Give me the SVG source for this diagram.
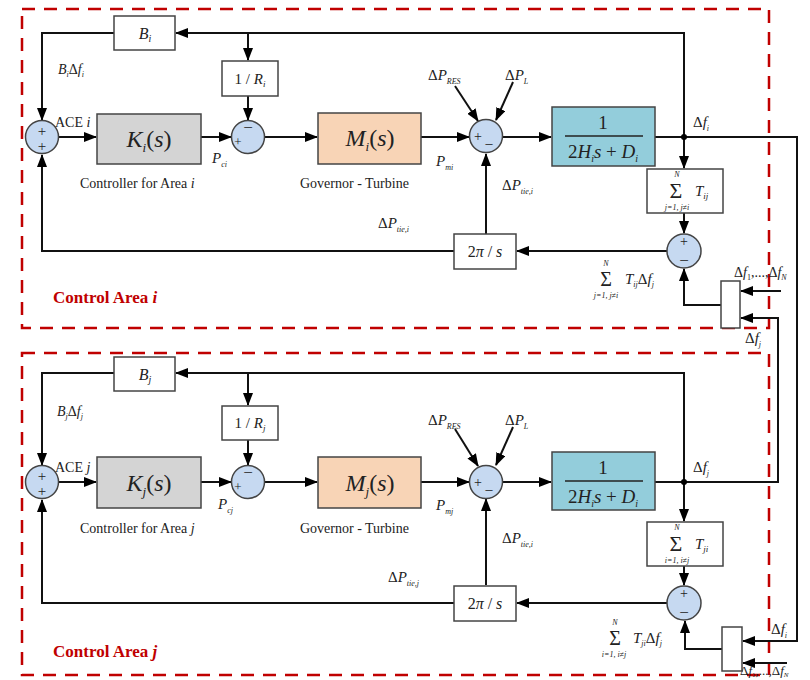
<svg xmlns="http://www.w3.org/2000/svg" width="810" height="680" viewBox="0 0 810 680" font-family="'Liberation Serif','Times New Roman',serif">
<defs>
<marker id="a" markerWidth="13" markerHeight="10" refX="12" refY="5" orient="auto" markerUnits="userSpaceOnUse">
<path d="M0,0 L13,5 L0,10 z" fill="#000"/>
</marker>
<style>
.t{font-family:"Liberation Serif","Times New Roman",serif;fill:#222}
.i{font-style:italic}
.ln{fill:none;stroke:#111;stroke-width:2}
.bx{fill:#fff;stroke:#444;stroke-width:1.5}
.sm{fill:#c6d9f1;stroke:#444;stroke-width:1.5}
.dash{fill:none;stroke:#c00000;stroke-width:2.5;stroke-dasharray:13 9}
.red{font-family:"Liberation Serif","Times New Roman",serif;font-weight:bold;fill:#c00000;font-size:17px}
</style>
</defs>
<rect width="810" height="680" fill="#fff"/>

<!-- area frames -->
<g id="areaI">
<rect class="dash" x="22" y="9" width="747" height="319"/>
<text class="red" x="53" y="303">Control Area <tspan class="i">i</tspan></text>
</g>
<g id="areaJ">
<rect class="dash" x="22" y="353" width="747" height="322"/>
<text class="red" x="53" y="657">Control Area <tspan class="i">j</tspan></text>
</g>

<!-- connectors -->
<g id="connectors" class="ln" marker-end="url(#a)">
<!-- area i -->
<path d="M684,137 L684,33 L176,33"/>
<path d="M248,33 L248,60"/>
<path d="M114,33 L42,33 L42,120"/>
<path d="M59,137 L96,137"/>
<path d="M201,137 L231,137"/>
<path d="M248,96 L248,120"/>
<path d="M265,137 L317,137"/>
<path d="M421,137 L469,137"/>
<path d="M455,86 L478,121"/>
<path d="M513,82 L496,120"/>
<path d="M503,137 L551,137"/>
<path d="M655,137 L797,137 L797,641 L743,641"/>
<path d="M684,137 L684,168"/>
<path d="M684,213 L684,233"/>
<path d="M667,251 L517,251"/>
<path d="M486,234 L486,154"/>
<path d="M454,251 L42,251 L42,155"/>
<path d="M781,291 L741,291"/>
<path d="M655,482 L778,482 L778,318 L741,318"/>
<path d="M721,305 L684,305 L684,269"/>
<!-- area j -->
<path d="M684,482 L684,373 L176,373"/>
<path d="M248,373 L248,405"/>
<path d="M114,373 L42,373 L42,465"/>
<path d="M59,482 L96,482"/>
<path d="M201,482 L231,482"/>
<path d="M248,440 L248,465"/>
<path d="M265,482 L317,482"/>
<path d="M421,482 L469,482"/>
<path d="M455,429 L478,466"/>
<path d="M513,427 L496,465"/>
<path d="M503,482 L551,482"/>
<path d="M684,482 L684,521"/>
<path d="M684,566 L684,585"/>
<path d="M667,603 L517,603"/>
<path d="M486,585 L486,499"/>
<path d="M454,603 L42,603 L42,500"/>
<path d="M787,663 L743,663"/>
<path d="M722,649 L685,649 L685,621"/>
</g>
<g id="junctions" fill="#000">
<circle cx="684" cy="137" r="3"/>
<circle cx="684" cy="482" r="3"/>
</g>

<!-- ===== Area i nodes ===== -->
<g id="Bi">
<rect class="bx" x="114" y="16" width="61" height="34"/>
<text class="t i" x="145" y="39" font-size="16" text-anchor="middle">B<tspan font-size="10" dy="3">i</tspan></text>
</g>
<g id="Ri">
<rect class="bx" x="222" y="61" width="56" height="35"/>
<text class="t" x="250" y="84" font-size="15" text-anchor="middle">1 / <tspan class="i">R</tspan><tspan class="i" font-size="9" dy="3">i</tspan></text>
</g>
<g id="S1i">
<circle class="sm" cx="42" cy="137" r="16.5"/>
<text class="t" x="42" y="136" font-size="15" text-anchor="middle">+</text>
<text class="t" x="42" y="151" font-size="15" text-anchor="middle">+</text>
</g>
<g id="Ki">
<rect x="97" y="114" width="104" height="50" fill="#d4d4d4" stroke="#444" stroke-width="1.5"/>
<text class="t" x="149" y="147" font-size="24" text-anchor="middle"><tspan class="i">K</tspan><tspan class="i" font-size="13" dy="5">i</tspan><tspan dy="-5">(</tspan><tspan class="i">s</tspan>)</text>
</g>
<g id="S2i">
<circle class="sm" cx="248" cy="137" r="16.5"/>
<text class="t" x="248" y="133" font-size="17" text-anchor="middle">−</text>
<text class="t" x="238" y="146" font-size="13" text-anchor="middle">+</text>
</g>
<g id="Mi">
<rect x="318" y="113" width="103" height="51" fill="#f8d4b6" stroke="#444" stroke-width="1.5"/>
<text class="t" x="370" y="146" font-size="24" text-anchor="middle"><tspan class="i">M</tspan><tspan class="i" font-size="13" dy="5">i</tspan><tspan dy="-5">(</tspan><tspan class="i">s</tspan>)</text>
</g>
<g id="S3i">
<circle class="sm" cx="486" cy="136" r="16.5"/>
<text class="t" x="478" y="141" font-size="14" text-anchor="middle">+</text>
<text class="t" x="489" y="143" font-size="14" text-anchor="middle">_</text>
</g>
<g id="Gi">
<rect x="552" y="107" width="103" height="59" fill="#93cddb" stroke="#444" stroke-width="1.5"/>
<text class="t" x="603" y="129" font-size="19" text-anchor="middle">1</text>
<line x1="565" y1="136" x2="643" y2="136" stroke="#222" stroke-width="1.3"/>
<text class="t" x="603" y="158" font-size="19" text-anchor="middle">2<tspan class="i">H</tspan><tspan class="i" font-size="10" dy="4">i</tspan><tspan class="i" dy="-4">s</tspan> + <tspan class="i">D</tspan><tspan class="i" font-size="10" dy="4">i</tspan></text>
</g>
<g id="Ti">
<rect class="bx" x="647" y="169" width="76" height="44"/>
<text class="t i" x="677" y="177" font-size="8" text-anchor="middle">N</text>
<text class="t" x="676" y="198" font-size="22" text-anchor="middle">Σ</text>
<text class="t i" x="677" y="210" font-size="8" text-anchor="middle">j=1, j≠i</text>
<text class="t i" x="695" y="196" font-size="15">T<tspan font-size="9" dy="3">ij</tspan></text>
</g>
<g id="S4i">
<circle class="sm" cx="684" cy="251" r="17"/>
<text class="t" x="684" y="246" font-size="14" text-anchor="middle">+</text>
<text class="t" x="684" y="266" font-size="17" text-anchor="middle">−</text>
</g>
<g id="Pi">
<rect class="bx" x="454" y="234" width="62" height="35"/>
<text class="t" x="485" y="257" font-size="16" text-anchor="middle">2<tspan class="i">π</tspan> / <tspan class="i">s</tspan></text>
</g>
<g id="Xi">
<rect class="bx" x="721" y="281" width="19" height="47"/>
</g>

<!-- area i labels -->
<g id="labelsI" class="t">
<text class="i" x="58" y="74" font-size="14">B<tspan font-size="8" dy="3">i</tspan><tspan dy="-3" font-style="normal">Δ</tspan>f<tspan font-size="8" dy="3">i</tspan></text>
<text x="55" y="127" font-size="14">ACE <tspan class="i">i</tspan></text>
<text class="i" x="212" y="163" font-size="15">P<tspan font-size="8" dy="4">ci</tspan></text>
<text x="80" y="188" font-size="14">Controller for Area <tspan class="i">i</tspan></text>
<text x="300" y="188" font-size="14">Governor - Turbine</text>
<text class="i" x="436" y="166" font-size="15">P<tspan font-size="8" dy="4">mi</tspan></text>
<text x="428" y="80" font-size="15">Δ<tspan class="i">P</tspan><tspan class="i" font-size="8" dy="4">RES</tspan></text>
<text x="505" y="80" font-size="15">Δ<tspan class="i">P</tspan><tspan class="i" font-size="8" dy="4">L</tspan></text>
<text x="502" y="190" font-size="15">Δ<tspan class="i">P</tspan><tspan class="i" font-size="8" dy="4">tie,i</tspan></text>
<text x="378" y="228" font-size="15">Δ<tspan class="i">P</tspan><tspan class="i" font-size="8" dy="4">tie,i</tspan></text>
<text x="693" y="127" font-size="15">Δ<tspan class="i">f</tspan><tspan class="i" font-size="8" dy="4">i</tspan></text>
<text class="i" x="606" y="266" font-size="8" text-anchor="middle">N</text>
<text x="606" y="286" font-size="20" text-anchor="middle">Σ</text>
<text class="i" x="606" y="298" font-size="8" text-anchor="middle">j=1, j≠i</text>
<text x="625" y="284" font-size="15"><tspan class="i">T</tspan><tspan class="i" font-size="8" dy="3">ij</tspan><tspan dy="-3">Δ</tspan><tspan class="i">f</tspan><tspan class="i" font-size="8" dy="3">j</tspan></text>
<text x="734" y="277" font-size="14">Δ<tspan class="i">f</tspan><tspan font-size="8" dy="3">1</tspan><tspan dy="-3">,...,Δ</tspan><tspan class="i">f</tspan><tspan class="i" font-size="8" dy="3">N</tspan></text>
<text x="745" y="343" font-size="15">Δ<tspan class="i">f</tspan><tspan class="i" font-size="8" dy="4">j</tspan></text>
</g>

<!-- ===== Area j nodes ===== -->
<g id="Bj">
<rect class="bx" x="114" y="357" width="61" height="34"/>
<text class="t i" x="145" y="380" font-size="16" text-anchor="middle">B<tspan font-size="10" dy="3">j</tspan></text>
</g>
<g id="Rj">
<rect class="bx" x="222" y="406" width="56" height="34"/>
<text class="t" x="250" y="428" font-size="15" text-anchor="middle">1 / <tspan class="i">R</tspan><tspan class="i" font-size="9" dy="3">j</tspan></text>
</g>
<g id="S1j">
<circle class="sm" cx="42" cy="482" r="16.5"/>
<text class="t" x="42" y="481" font-size="15" text-anchor="middle">+</text>
<text class="t" x="42" y="496" font-size="15" text-anchor="middle">+</text>
</g>
<g id="Kj">
<rect x="97" y="457" width="104" height="51" fill="#d4d4d4" stroke="#444" stroke-width="1.5"/>
<text class="t" x="149" y="491" font-size="24" text-anchor="middle"><tspan class="i">K</tspan><tspan class="i" font-size="13" dy="5">j</tspan><tspan dy="-5">(</tspan><tspan class="i">s</tspan>)</text>
</g>
<g id="S2j">
<circle class="sm" cx="248" cy="482" r="16.5"/>
<text class="t" x="248" y="478" font-size="17" text-anchor="middle">−</text>
<text class="t" x="238" y="491" font-size="13" text-anchor="middle">+</text>
</g>
<g id="Mj">
<rect x="318" y="457" width="103" height="51" fill="#f8d4b6" stroke="#444" stroke-width="1.5"/>
<text class="t" x="370" y="491" font-size="24" text-anchor="middle"><tspan class="i">M</tspan><tspan class="i" font-size="13" dy="5">j</tspan><tspan dy="-5">(</tspan><tspan class="i">s</tspan>)</text>
</g>
<g id="S3j">
<circle class="sm" cx="486" cy="482" r="16.5"/>
<text class="t" x="478" y="487" font-size="14" text-anchor="middle">+</text>
<text class="t" x="489" y="489" font-size="14" text-anchor="middle">_</text>
</g>
<g id="Gj">
<rect x="552" y="452" width="103" height="58" fill="#93cddb" stroke="#444" stroke-width="1.5"/>
<text class="t" x="603" y="474" font-size="19" text-anchor="middle">1</text>
<line x1="565" y1="481" x2="643" y2="481" stroke="#222" stroke-width="1.3"/>
<text class="t" x="603" y="503" font-size="19" text-anchor="middle">2<tspan class="i">H</tspan><tspan class="i" font-size="10" dy="4">i</tspan><tspan class="i" dy="-4">s</tspan> + <tspan class="i">D</tspan><tspan class="i" font-size="10" dy="4">i</tspan></text>
</g>
<g id="Tj">
<rect class="bx" x="647" y="522" width="76" height="44"/>
<text class="t i" x="677" y="530" font-size="8" text-anchor="middle">N</text>
<text class="t" x="676" y="551" font-size="22" text-anchor="middle">Σ</text>
<text class="t i" x="677" y="563" font-size="8" text-anchor="middle">i=1, i≠j</text>
<text class="t i" x="695" y="549" font-size="15">T<tspan font-size="9" dy="3">ji</tspan></text>
</g>
<g id="S4j">
<circle class="sm" cx="684" cy="603" r="17"/>
<text class="t" x="684" y="598" font-size="14" text-anchor="middle">+</text>
<text class="t" x="684" y="618" font-size="17" text-anchor="middle">−</text>
</g>
<g id="Pj">
<rect class="bx" x="454" y="586" width="62" height="35"/>
<text class="t" x="485" y="609" font-size="16" text-anchor="middle">2<tspan class="i">π</tspan> / <tspan class="i">s</tspan></text>
</g>
<g id="Xj">
<rect class="bx" x="722" y="627" width="20" height="44"/>
</g>

<!-- area j labels -->
<g id="labelsJ" class="t">
<text class="i" x="57" y="416" font-size="14">B<tspan font-size="8" dy="3">j</tspan><tspan dy="-3" font-style="normal">Δ</tspan>f<tspan font-size="8" dy="3">j</tspan></text>
<text x="55" y="472" font-size="14">ACE <tspan class="i">j</tspan></text>
<text class="i" x="218" y="509" font-size="15">P<tspan font-size="8" dy="4">cj</tspan></text>
<text x="80" y="533" font-size="14">Controller for Area <tspan class="i">j</tspan></text>
<text x="300" y="533" font-size="14">Governor - Turbine</text>
<text class="i" x="436" y="510" font-size="15">P<tspan font-size="8" dy="4">mj</tspan></text>
<text x="428" y="425" font-size="15">Δ<tspan class="i">P</tspan><tspan class="i" font-size="8" dy="4">RES</tspan></text>
<text x="505" y="425" font-size="15">Δ<tspan class="i">P</tspan><tspan class="i" font-size="8" dy="4">L</tspan></text>
<text x="502" y="543" font-size="15">Δ<tspan class="i">P</tspan><tspan class="i" font-size="8" dy="4">tie,i</tspan></text>
<text x="388" y="582" font-size="15">Δ<tspan class="i">P</tspan><tspan class="i" font-size="8" dy="4">tie,j</tspan></text>
<text x="693" y="472" font-size="15">Δ<tspan class="i">f</tspan><tspan class="i" font-size="8" dy="4">j</tspan></text>
<text class="i" x="615" y="625" font-size="8" text-anchor="middle">N</text>
<text x="615" y="645" font-size="20" text-anchor="middle">Σ</text>
<text class="i" x="614" y="657" font-size="8" text-anchor="middle">i=1, i≠j</text>
<text x="633" y="643" font-size="15"><tspan class="i">T</tspan><tspan class="i" font-size="8" dy="3">ji</tspan><tspan dy="-3">Δ</tspan><tspan class="i">f</tspan><tspan class="i" font-size="8" dy="3">j</tspan></text>
<text x="771" y="634" font-size="15">Δ<tspan class="i">f</tspan><tspan class="i" font-size="8" dy="4">i</tspan></text>
<text x="740" y="675" font-size="13">Δ<tspan class="i">f</tspan><tspan font-size="7" dy="2">1</tspan><tspan dy="-2">,...,Δ</tspan><tspan class="i">f</tspan><tspan class="i" font-size="7" dy="2">N</tspan></text>
</g>
</svg>
